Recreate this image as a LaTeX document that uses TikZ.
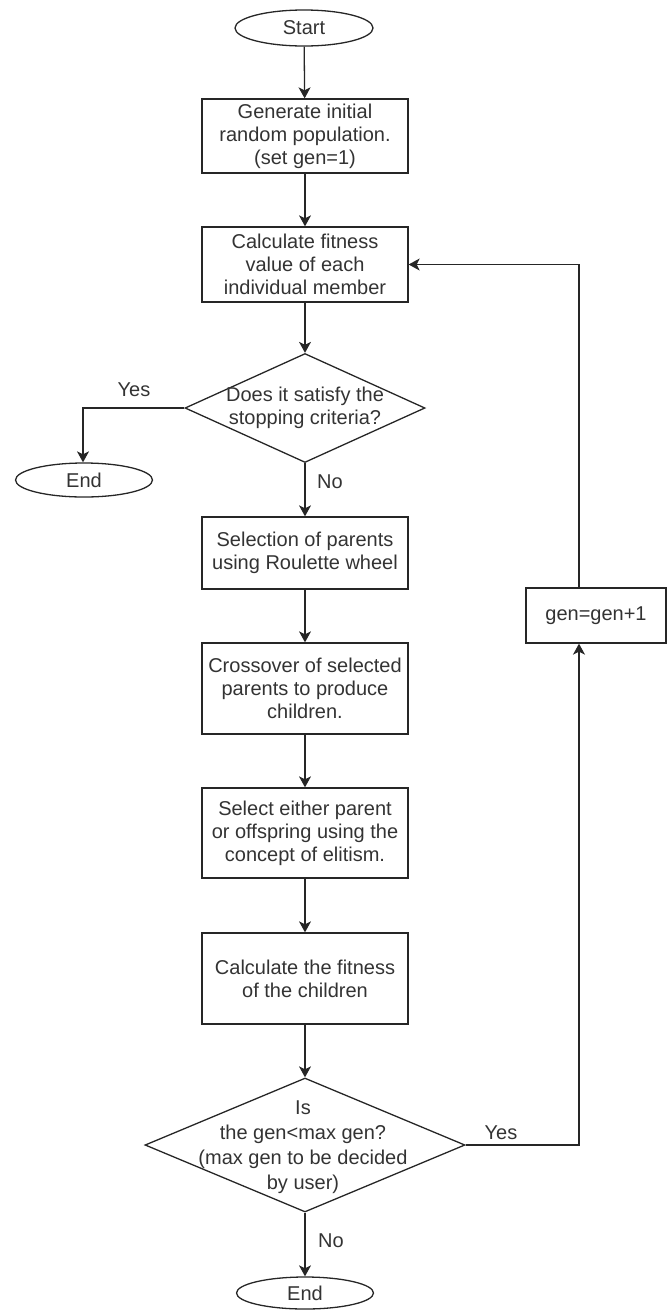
\documentclass[tikz,border=0pt]{standalone}
\usepackage{fontspec}
\setmainfont{Liberation Sans}
\usetikzlibrary{shapes.geometric,arrows.meta}
\begin{document}
\begin{tikzpicture}[x=1pt,y=1pt,
  every node/.style={font=\fontsize{20}{23}\selectfont, text=black!80},
  stepbox/.style={draw=black!85, line width=1.3pt, rectangle, minimum width=206pt, inner sep=0pt, align=center},
  term/.style={draw=black!85, line width=1.3pt, ellipse, minimum width=137pt, minimum height=34pt, inner sep=0pt},
  dec/.style={draw=black!85, line width=1.3pt, diamond, inner sep=0pt},
  lbl/.style={inner sep=0pt},
  conn/.style={draw=black!85, line width=1.3pt},
  arr/.style={conn, -{Stealth[length=11pt,width=12pt,inset=3pt]}}
]
\useasboundingbox (0,0) rectangle (667,-1310);
\node[term, minimum width=138pt, minimum height=36pt] (start) at (304,-28) {Start};
\node[stepbox, minimum height=74pt] (b1) at (305,-136) {Generate initial\\random population.\\(set gen=1)};
\node[stepbox, minimum height=75pt] (b2) at (305,-264.5) {Calculate fitness\\value of each\\individual member};
\node[dec, minimum width=240pt, minimum height=109pt] (d1) at (305,-408) {};
\node[lbl, align=center] (d1t) at (d1.center) {Does it satisfy the\\stopping criteria?};
\node[term] (e1) at (84,-480) {End};
\node[stepbox, minimum height=72pt] (b3) at (305,-553) {Selection of parents\\using Roulette wheel};
\node[stepbox, minimum height=91pt] (b4) at (305,-688.5) {Crossover of selected\\parents to produce\\children.};
\node[stepbox, minimum height=90pt] (b5) at (305,-833) {Select either parent\\or offspring using the\\concept of elitism.};
\node[stepbox, minimum height=91pt] (b6) at (305,-978.5) {Calculate the fitness\\of the children};
\node[dec, minimum width=320pt, minimum height=134pt] (d2) at (305,-1145) {};
\node[lbl, align=center, font=\fontsize{20}{25}\selectfont] (d2t) at (303,-1147) {Is\\the gen<max gen?\\(max gen to be decided\\by user)};
\node[term, minimum height=32pt] (e2) at (305,-1293) {End};
\node[stepbox, minimum width=140pt, minimum height=55pt] (gen) at (596,-615.5) {gen=gen+1};
\coordinate (lx) at (579,-1145);
\coordinate (ly) at (83,-408);
% labels
\node[lbl] (yes1) at (134,-390) {Yes};
\node[lbl] (no1) at (330,-482) {No};
\node[lbl] (yes2) at (501,-1133) {Yes};
\node[lbl] (no2) at (331,-1241) {No};
% connectors
\draw[arr] (start) -- (b1);
\draw[arr] (b1) -- (b2);
\draw[arr] (b2) -- (d1);
\draw[arr] (d1.west) -- (ly) -- (ly |- e1.north);
\draw[arr] (d1) -- (b3);
\draw[arr] (b3) -- (b4);
\draw[arr] (b4) -- (b5);
\draw[arr] (b5) -- (b6);
\draw[arr] (b6) -- (d2);
\draw[arr] (d2) -- (e2);
\draw[arr] (d2.east) -- (lx) -- (lx |- gen.south);
\draw[arr] (gen.north -| lx) |- (b2.east);
\end{tikzpicture}
\end{document}
